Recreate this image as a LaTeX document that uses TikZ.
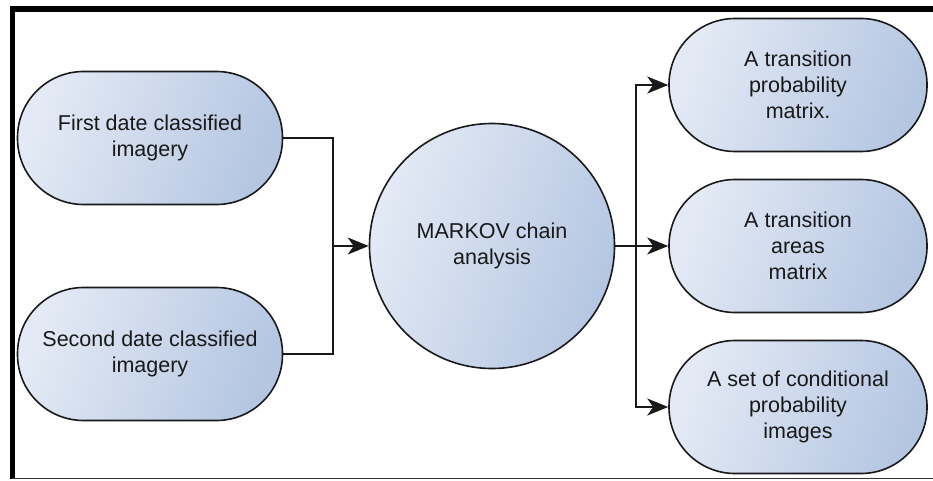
\documentclass[tikz,border=0pt]{standalone}
\usepackage{fontspec}
\setmainfont{Liberation Sans}
\usetikzlibrary{arrows.meta}
\definecolor{fillLight}{RGB}{228,234,245}
\definecolor{fillDark}{RGB}{180,198,226}
\definecolor{inkText}{RGB}{25,25,25}
\tikzset{
  flowline/.style={line width=1.7pt, draw=black!90},
  arr/.style={flowline, -{Stealth[length=21pt,width=17pt,inset=6pt]}},
  fillgrad/.style={left color=fillLight, right color=fillDark, shading angle=70},
  termbox/.style={fillgrad, draw=black!90, line width=1.6pt, rectangle,
    rounded corners=66pt, minimum width=#1, minimum height=133pt, inner sep=0pt,
    align=center, text=inkText, font=\fontsize{21.5}{26}\selectfont},
  hubcircle/.style={fillgrad, draw=black!90, line width=1.6pt, circle,
    minimum size=245pt, inner sep=0pt, align=center, text=inkText,
    font=\fontsize{21.5}{26}\selectfont},
}
\begin{document}
\begin{tikzpicture}[x=1pt, y=-1pt]
\useasboundingbox (0,0) rectangle (933,481);
% frame
\fill[white] (0,0) rectangle (933,481);
\draw[line width=5.5pt] (12,9) -- (933,9);
\draw[line width=5pt] (12,6.5) -- (12,479);
\draw[line width=1.6pt, draw=black!80] (12,478.5) -- (933,478.5);

% inputs
\node[termbox=265pt] (first) at (150,138) {First date classified\\imagery};
\node[termbox=265pt] (second) at (150,354) {Second date classified\\imagery};

% analysis
\node[hubcircle] (markov) at (492,246) {MARKOV chain\\analysis};

% outputs
\node[termbox=258pt] (prob) at (798,85) {A transition\\probability\\ matrix.};
\node[termbox=258pt] (areas) at (798,246) {A transition\\areas\\matrix};
\node[termbox=258pt] (cond) at (798,407) {A set of conditional\\probability\\images};

% connectors
\coordinate (joinL) at (333,246);
\coordinate (joinR) at (636,246);
\draw[flowline] (first.east) -| (joinL) |- (second.east);
\draw[arr] (joinL) -- (markov.west);
\draw[flowline] (markov.east) -- (joinR);
\draw[arr] (joinR) |- (prob.west);
\draw[arr] (joinR) -- (areas.west);
\draw[arr] (joinR) |- (cond.west);
\end{tikzpicture}
\end{document}
